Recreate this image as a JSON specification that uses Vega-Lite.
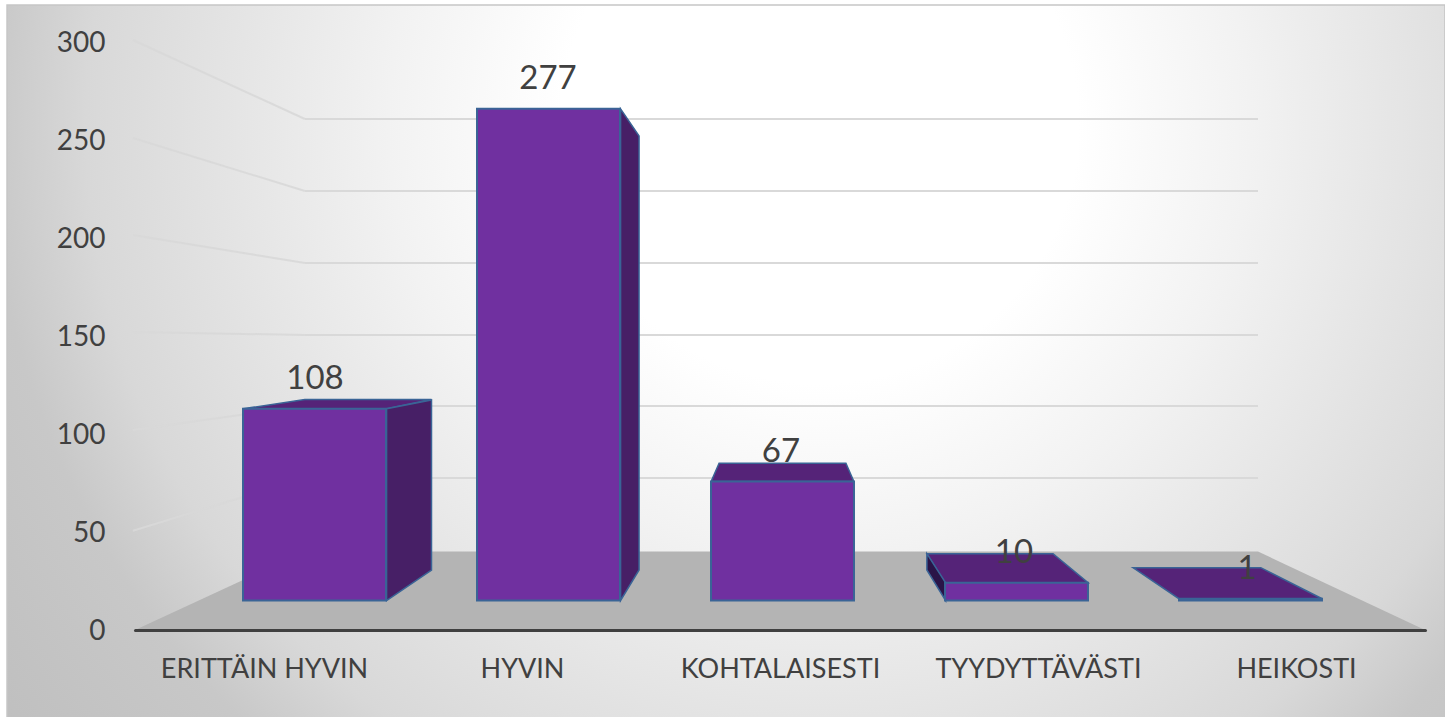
{
"$schema":"https://vega.github.io/schema/vega-lite/v6.json",
"width":1445,"height":717,"padding":0,"autosize":{"type":"none"},"background":"white",
"config":{"view":{"stroke":null},"font":"Lato"},
"datasets":{
"answers":[{"cat":"ERITTÄIN HYVIN","n":108},{"cat":"HYVIN","n":277},{"cat":"KOHTALAISESTI","n":67},{"cat":"TYYDYTTÄVÄSTI","n":10},{"cat":"HEIKOSTI","n":1}],
"wall":[
{"level":300,"part":"wall","u":-0.041,"v":271.27},{"level":300,"part":"wall","u":4.032,"v":271.27},
{"level":250,"part":"wall","u":-0.041,"v":230.7},{"level":250,"part":"wall","u":4.032,"v":230.7},
{"level":200,"part":"wall","u":-0.041,"v":190.14},{"level":200,"part":"wall","u":4.032,"v":190.14},
{"level":150,"part":"wall","u":-0.041,"v":149.58},{"level":150,"part":"wall","u":4.032,"v":149.58},
{"level":100,"part":"wall","u":-0.041,"v":109.58},{"level":100,"part":"wall","u":4.032,"v":109.58},
{"level":50,"part":"wall","u":-0.041,"v":69.01},{"level":50,"part":"wall","u":4.032,"v":69.01}],
"sidewall":[
{"level":300,"u":-0.776,"v":315.77},{"level":300,"u":-0.041,"v":271.27},
{"level":250,"u":-0.776,"v":260.56},{"level":250,"u":-0.041,"v":230.7},
{"level":200,"u":-0.776,"v":205.92},{"level":200,"u":-0.041,"v":190.14},
{"level":150,"u":-0.776,"v":151.27},{"level":150,"u":-0.041,"v":149.58},
{"level":100,"u":-0.776,"v":96.06},{"level":100,"u":-0.041,"v":109.58},
{"level":50,"u":-0.776,"v":39.32},{"level":50,"u":-0.041,"v":69.01}],
"floor":[{"u":-0.767,"u2":4.746,"v":-16.62},{"u":-0.041,"u2":4.032,"v":27.61}],
"tops":[
{"bar":"ERITTÄIN HYVIN","v":108,"u":-0.306,"u2":0.306},{"bar":"ERITTÄIN HYVIN","v":113.2,"u":-0.041,"u2":0.5},
{"bar":"KOHTALAISESTI","v":67,"u":1.695,"u2":2.305},{"bar":"KOHTALAISESTI","v":77.3,"u":1.729,"u2":2.271},
{"bar":"TYYDYTTÄVÄSTI","v":10,"u":2.694,"u2":3.306},{"bar":"TYYDYTTÄVÄSTI","v":26.37,"u":2.617,"u2":3.156},
{"bar":"HEIKOSTI","v":1,"u":3.694,"u2":4.306},{"bar":"HEIKOSTI","v":18.48,"u":3.498,"u2":4.044}],
"sides":[
{"bar":"ERITTÄIN HYVIN","face":"right","u":0.308,"v":108,"v2":0},{"bar":"ERITTÄIN HYVIN","face":"right","u":0.5,"v":112.96,"v2":17.18},
{"bar":"HYVIN","face":"right","u":1.308,"v":277,"v2":0},{"bar":"HYVIN","face":"right","u":1.387,"v":261.69,"v2":17.18},
{"bar":"TYYDYTTÄVÄSTI","face":"left","u":2.617,"v":26.37,"v2":17.18},{"bar":"TYYDYTTÄVÄSTI","face":"left","u":2.697,"v":10,"v2":0}],
"backdrop":[{"u":-1.314,"u2":4.831,"v":335.49,"v2":-466.76}]
},
"layer":[
{"data":{"name":"backdrop"},
 "mark":{"type":"rect","clip":true,"stroke":"#c6c6c6","strokeWidth":1.5,"fill":{"gradient":"radial","x1":0.565,"y1":0.088,"r1":0,"x2":0.565,"y2":0.088,"r2":0.75,"stops":[{"offset":0,"color":"#ffffff"},{"offset":0.24,"color":"#ffffff"},{"offset":0.4,"color":"#f2f2f2"},{"offset":0.55,"color":"#e4e4e4"},{"offset":0.68,"color":"#d8d8d8"},{"offset":0.77,"color":"#c8c8c8"},{"offset":1,"color":"#bcbcbc"}]}},
 "encoding":{
  "x":{"field":"u","type":"quantitative","axis":null,"scale":{"domain":[0,1],"range":[314.5,548.5],"zero":false,"nice":false}},
  "x2":{"field":"u2"},
  "y":{"field":"v","type":"quantitative","axis":null,"scale":{"domain":[0,300],"range":[600.5,68],"zero":false,"nice":false}},
  "y2":{"field":"v2"}}},
{"data":{"name":"floor"},
 "mark":{"type":"area","orient":"horizontal","color":"#b4b4b4"},
 "encoding":{
  "x":{"field":"u","type":"quantitative","axis":null,"stack":null,"scale":{"domain":[0,1],"range":[314.5,548.5],"zero":false,"nice":false}},
  "x2":{"field":"u2"},
  "y":{"field":"v","type":"quantitative","axis":null,"scale":{"domain":[0,300],"range":[600.5,68],"zero":false,"nice":false}}}},
{"data":{"name":"wall"},
 "mark":{"type":"line","color":"#d9d9d9","strokeWidth":2},
 "encoding":{
  "detail":{"field":"level"},
  "x":{"field":"u","type":"quantitative","axis":null,"scale":{"domain":[0,1],"range":[314.5,548.5],"zero":false,"nice":false}},
  "y":{"field":"v","type":"quantitative","axis":null,"scale":{"domain":[0,300],"range":[600.5,68],"zero":false,"nice":false}}}},
{"data":{"name":"sidewall"},
 "mark":{"type":"line","color":"#d8d8d8","strokeWidth":2,"opacity":0.9},
 "encoding":{
  "detail":{"field":"level"},
  "x":{"field":"u","type":"quantitative","axis":null,"scale":{"domain":[0,1],"range":[314.5,548.5],"zero":false,"nice":false}},
  "y":{"field":"v","type":"quantitative","axis":null,"scale":{"domain":[0,300],"range":[600.5,68],"zero":false,"nice":false}}}},
{"data":{"name":"answers"},
 "mark":{"type":"point","opacity":0},
 "encoding":{
  "x":{"field":"cat","type":"nominal","sort":null,"scale":{"domain":["ERITTÄIN HYVIN","HYVIN","KOHTALAISESTI","TYYDYTTÄVÄSTI","HEIKOSTI"],"range":[135,1425]},
   "axis":{"title":null,"orient":"bottom","offset":-87,"labelAngle":0,"ticks":false,"domainColor":"#404040","domainWidth":3,"domainCap":"round","labelColor":"#404040","labelFont":"Lato","labelFontSize":27,"labelPadding":26,"labelLimit":400,"zindex":1,"grid":false}},
  "y":{"field":"n","type":"quantitative","scale":{"domain":[0,300],"range":[631.5,43.5],"zero":false,"nice":false},
   "axis":{"title":null,"orient":"left","offset":-105,"values":[0,50,100,150,200,250,300],"ticks":false,"domain":false,"grid":false,"labelColor":"#404040","labelFont":"Lato","labelFontSize":28,"labelPadding":0,"zindex":1}}}},
{"data":{"name":"tops"},
 "mark":{"type":"area","orient":"horizontal","color":"#552378","stroke":"#3a6496","strokeWidth":1.5},
 "encoding":{
  "detail":{"field":"bar"},
  "x":{"field":"u","type":"quantitative","axis":null,"stack":null,"scale":{"domain":[0,1],"range":[314.5,548.5],"zero":false,"nice":false}},
  "x2":{"field":"u2"},
  "y":{"field":"v","type":"quantitative","axis":null,"scale":{"domain":[0,300],"range":[600.5,68],"zero":false,"nice":false}}}},
{"data":{"name":"sides"},
 "mark":{"type":"area","stroke":"#3a6496","strokeWidth":1.5},
 "encoding":{
  "detail":{"field":"bar"},
  "color":{"field":"face","type":"nominal","legend":null,"scale":{"domain":["right","left"],"range":["#471f66","#2a1448"]}},
  "x":{"field":"u","type":"quantitative","axis":null,"scale":{"domain":[0,1],"range":[314.5,548.5],"zero":false,"nice":false}},
  "y":{"field":"v","type":"quantitative","axis":null,"stack":null,"scale":{"domain":[0,300],"range":[600.5,68],"zero":false,"nice":false}},
  "y2":{"field":"v2"}}},
{"data":{"name":"answers"},
 "mark":{"type":"bar","color":"#7030a0","stroke":"#3a6496","strokeWidth":2},
 "encoding":{
  "x":{"field":"cat","type":"nominal","sort":null,"axis":null,"scale":{"domain":["ERITTÄIN HYVIN","HYVIN","KOHTALAISESTI","TYYDYTTÄVÄSTI","HEIKOSTI"],"range":[197.5,1367.5],"paddingInner":0.389,"paddingOuter":0.1945}},
  "y":{"field":"n","type":"quantitative","axis":null,"scale":{"domain":[0,300],"range":[600.5,68],"zero":false,"nice":false}}}},
{"data":{"name":"answers"},
 "mark":{"type":"text","color":"#404040","font":"Lato","fontSize":33,"baseline":"middle","dy":-30},
 "encoding":{
  "text":{"field":"n","type":"quantitative"},
  "x":{"field":"cat","type":"nominal","sort":null,"axis":null,"scale":{"domain":["ERITTÄIN HYVIN","HYVIN","KOHTALAISESTI","TYYDYTTÄVÄSTI","HEIKOSTI"],"range":[198.5,1363.5],"paddingInner":0.389,"paddingOuter":0.1945}},
  "y":{"field":"n","type":"quantitative","axis":null,"scale":{"domain":[0,300],"range":[600.5,68],"zero":false,"nice":false}}}}
],
"resolve":{"scale":{"x":"independent","y":"independent","color":"independent"},"axis":{"x":"independent","y":"independent"}}
}
